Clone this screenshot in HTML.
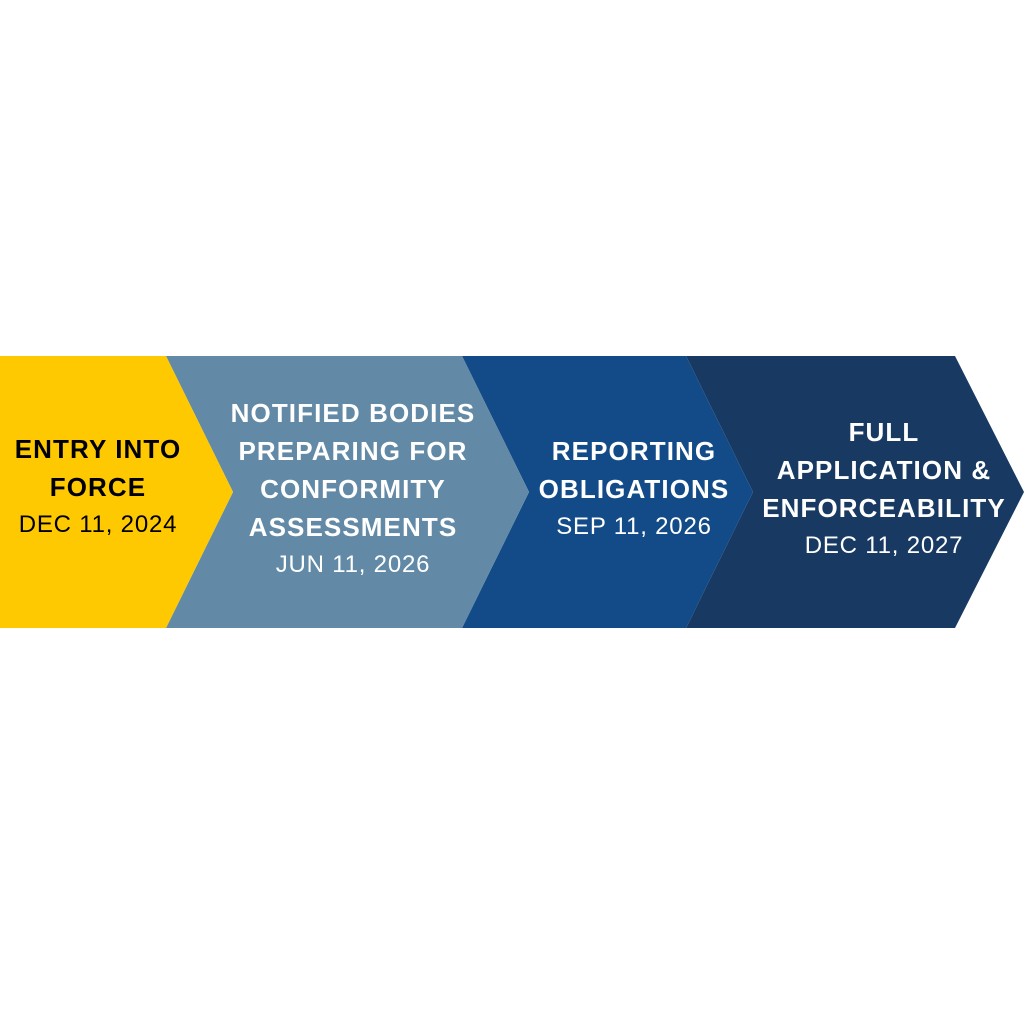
<!DOCTYPE html>
<html><head><meta charset="utf-8"><style>
html,body{margin:0;padding:0;background:#fff;}
body{width:1024px;height:1024px;position:relative;overflow:hidden;font-family:"Liberation Sans",sans-serif;}
svg{position:absolute;left:0;top:0;}
.t{position:absolute;text-align:center;white-space:nowrap;transform:translateX(-50%);}
.b{font-weight:bold;font-size:26px;line-height:38px;letter-spacing:1.1px;}
.d{font-size:24px;line-height:38px;letter-spacing:0.8px;}
</style></head><body>
<svg width="1024" height="1024">
<polygon points="686,356 955,356 1024,492 955,628 686,628 753,492" fill="#183a62"/>
<polygon points="462,356 686,356 753,492 686,628 462,628 529,492" fill="#124b88"/>
<polygon points="166,356 462,356 529,492 462,628 166,628 233,492" fill="#628aa6"/>
<polygon points="0,356 166,356 233,492 166,628 0,628" fill="#fec900"/>
</svg>
<div class="t" style="left:98px;top:430px;color:#000"><div class="b">ENTRY INTO<br>FORCE</div><div class="d">DEC 11, 2024</div></div>
<div class="t" style="left:353px;top:394px;color:#fff"><div class="b">NOTIFIED BODIES<br>PREPARING FOR<br>CONFORMITY<br>ASSESSMENTS</div><div class="d">JUN 11, 2026</div></div>
<div class="t" style="left:634px;top:432px;color:#fff"><div class="b">REPORTING<br>OBLIGATIONS</div><div class="d">SEP 11, 2026</div></div>
<div class="t" style="left:884px;top:413px;color:#fff"><div class="b">FULL<br>APPLICATION &amp;<br>ENFORCEABILITY</div><div class="d">DEC 11, 2027</div></div>
</body></html>
